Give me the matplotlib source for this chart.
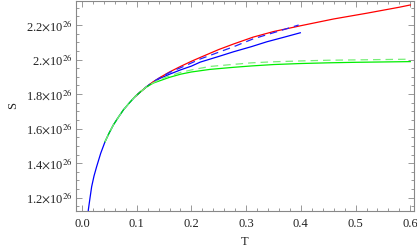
import matplotlib
matplotlib.use("Agg")
import matplotlib.pyplot as plt
from matplotlib.ticker import MultipleLocator, FuncFormatter

# values, S in units of 1e26
T_blue = [0.0105, 0.0116, 0.0146, 0.0177, 0.022, 0.0268, 0.0342, 0.0421, 0.0494, 0.0573,
          0.0665, 0.0756, 0.086, 0.0969, 0.1073, 0.1183, 0.1305, 0.143, 0.16, 0.18, 0.2,
          0.216, 0.25, 0.277, 0.31, 0.338, 0.37, 0.399]
S_blue = [1.09, 1.129, 1.197, 1.264, 1.326, 1.38, 1.457, 1.524, 1.573, 1.621,
          1.666, 1.708, 1.747, 1.785, 1.814, 1.843, 1.87, 1.892, 1.915, 1.94, 1.962,
          1.985, 2.018, 2.045, 2.075, 2.103, 2.13, 2.155]

T_blue_dash = [0.0969, 0.1073, 0.1183, 0.1305, 0.143, 0.16, 0.19, 0.216, 0.252, 0.277,
               0.313, 0.356, 0.396]
S_blue_dash = [1.785, 1.814, 1.843, 1.872, 1.896, 1.925, 1.966, 2.003, 2.045, 2.074,
               2.12, 2.161, 2.20]

T_red = [0.0969, 0.1073, 0.1183, 0.1305, 0.143, 0.16, 0.18, 0.2, 0.216, 0.25, 0.277, 0.313,
         0.35, 0.4, 0.46, 0.52, 0.58, 0.6]
S_red = [1.785, 1.814, 1.843, 1.872, 1.897, 1.928, 1.96, 1.99, 2.012, 2.058, 2.09, 2.13,
         2.162, 2.196, 2.235, 2.268, 2.303, 2.316]

T_green = [0.0421, 0.0494, 0.0573, 0.0665, 0.0756, 0.086, 0.0969, 0.1073, 0.1183, 0.1305,
           0.143, 0.16, 0.18, 0.2, 0.234, 0.277, 0.31, 0.35, 0.4, 0.45, 0.5, 0.55, 0.6]
S_green = [1.524, 1.573, 1.621, 1.666, 1.708, 1.747, 1.785, 1.814, 1.842, 1.864,
           1.878, 1.897, 1.915, 1.928, 1.943, 1.955, 1.963, 1.971, 1.977, 1.981, 1.984,
           1.986, 1.988]
S_green_dash = [1.524, 1.573, 1.621, 1.666, 1.708, 1.747, 1.785, 1.814, 1.843, 1.866,
                1.885, 1.905, 1.925, 1.94, 1.96, 1.972, 1.981, 1.987, 1.992, 1.996, 1.998,
                2.0, 2.002]

Y_TICKS = [1.2, 1.4, 1.6, 1.8, 2.0, 2.2]


def s_label(v, pos):
    m = round(v / 1e26, 2)
    txt = "2." if abs(m - 2.0) < 1e-6 else "%.1f" % m
    return txt + r"$\times$10$^{26}$"


plt.rcParams["font.family"] = ["Liberation Serif", "DejaVu Serif"]
plt.rcParams["mathtext.fontset"] = "stix"

fig = plt.figure(figsize=(4.17, 2.49), dpi=100)
ax = fig.add_axes([0.1815, 0.1526, 0.812, 0.8434])

scale = 1e26
lw = 0.9
ax.plot(T_blue, [s * scale for s in S_blue], color="#0000ff", lw=lw)
ax.plot(T_red, [s * scale for s in S_red], color="#ff0000", lw=lw)
ax.plot(T_blue_dash, [s * scale for s in S_blue_dash], color="#2222ff", lw=lw, dashes=(6, 4))
ax.plot(T_green, [s * scale for s in S_green], color="#00ee00", lw=lw)
ax.plot(T_green, [s * scale for s in S_green_dash], color="#77ee77", lw=lw, dashes=(6, 4))

ax.set_xlim(-0.0115, 0.6073)
ax.set_ylim(1.123e26, 2.339e26)

ax.xaxis.set_major_locator(MultipleLocator(0.1))
ax.xaxis.set_minor_locator(MultipleLocator(0.02))
ax.xaxis.set_major_formatter(FuncFormatter(lambda v, p: "%.1f" % v))
ax.set_yticks([v * scale for v in Y_TICKS])
ax.yaxis.set_minor_locator(MultipleLocator(0.05e26))
ax.yaxis.set_major_formatter(FuncFormatter(s_label))

gray = "#888888"
for sp in ax.spines.values():
    sp.set_color(gray)
    sp.set_linewidth(0.8)
ax.tick_params(which="both", direction="in", top=True, right=True, colors=gray,
               labelcolor="#222222", labelsize=9, width=0.6)
ax.tick_params(which="major", length=4)
ax.tick_params(which="minor", length=2)
ax.tick_params(axis="y", pad=2)
ax.tick_params(axis="x", pad=5)

ax.set_xlabel("T", fontsize=9, color="#222222", labelpad=4)
ax.set_ylabel("S", fontsize=9, color="#222222", labelpad=5)

fig.savefig("out.png", dpi=100)
